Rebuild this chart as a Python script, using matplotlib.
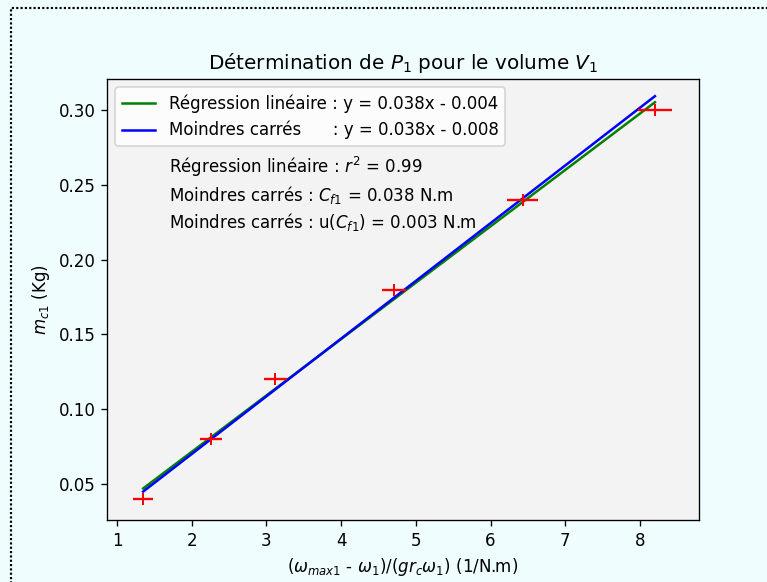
import matplotlib
matplotlib.use("Agg")
import matplotlib.pyplot as plt
from matplotlib.patches import Rectangle
import numpy as np

# Data
x_vals = [1.35, 2.26, 3.12, 4.71, 6.43, 8.20]
y_vals = [0.04, 0.08, 0.12, 0.18, 0.24, 0.30]
x_err = [0.13, 0.15, 0.15, 0.16, 0.21, 0.23]

reg_slope, reg_intercept = 0.0377, -0.0039
ls_slope, ls_intercept = 0.0386, -0.0072

reg_label = "Régression linéaire : y = 0.038x - 0.004"
ls_label = "Moindres carrés      : y = 0.038x - 0.008"
info_lines = [
    "Régression linéaire : $r^2$ = 0.99",
    "Moindres carrés : $C_{f1}$ = 0.038 N.m",
    "Moindres carrés : u($C_{f1}$) = 0.003 N.m",
]
info_y = [0.2622, 0.2435, 0.2255]
x_ticks = [1, 2, 3, 4, 5, 6, 7, 8]
y_ticks = [0.05, 0.10, 0.15, 0.20, 0.25, 0.30]

DPI = 120
fig = plt.figure(figsize=(767/DPI, 582/DPI), dpi=DPI, facecolor="#f0fdff")
ax = fig.add_axes([107/767, 1-520/582, (699-107)/767, (520-79)/582])
ax.set_facecolor("#f3f3f3")

# dotted border of the notebook cell
fig.patches.append(Rectangle((11/767, -0.05), 1.2, 1-8/582+0.05, transform=fig.transFigure,
                             fill=False, edgecolor="black", linestyle=(0, (1, 1)), linewidth=1.3))

xs = np.array([min(x_vals), max(x_vals)])
ax.plot(xs, reg_slope*xs + reg_intercept, color="green", lw=1.5, label=reg_label)
ax.plot(xs, ls_slope*xs + ls_intercept, color="blue", lw=1.5, label=ls_label)
ax.errorbar(x_vals, y_vals, xerr=x_err, fmt="+", color="red", ms=7, mew=1.2,
            elinewidth=1.4, capsize=0, zorder=3)

for t, yy in zip(info_lines, info_y):
    ax.text(1.70, yy, t, va="center", ha="left", fontsize=10)

ax.set_xlim(0.866, 8.79)
ax.set_ylim(0.0259, 0.3208)
ax.set_xticks(x_ticks)
ax.set_yticks(y_ticks)
ax.set_title("Détermination de $P_1$ pour le volume $V_1$", fontsize=12)
ax.set_xlabel(r"($\omega_{max1}$ - $\omega_1$)/($gr_c\omega_1$) (1/N.m)")
ax.set_ylabel(r"$m_{c1}$ (Kg)")
ax.legend(loc="upper left")

fig.savefig("out.png", dpi=DPI, facecolor=fig.get_facecolor())
